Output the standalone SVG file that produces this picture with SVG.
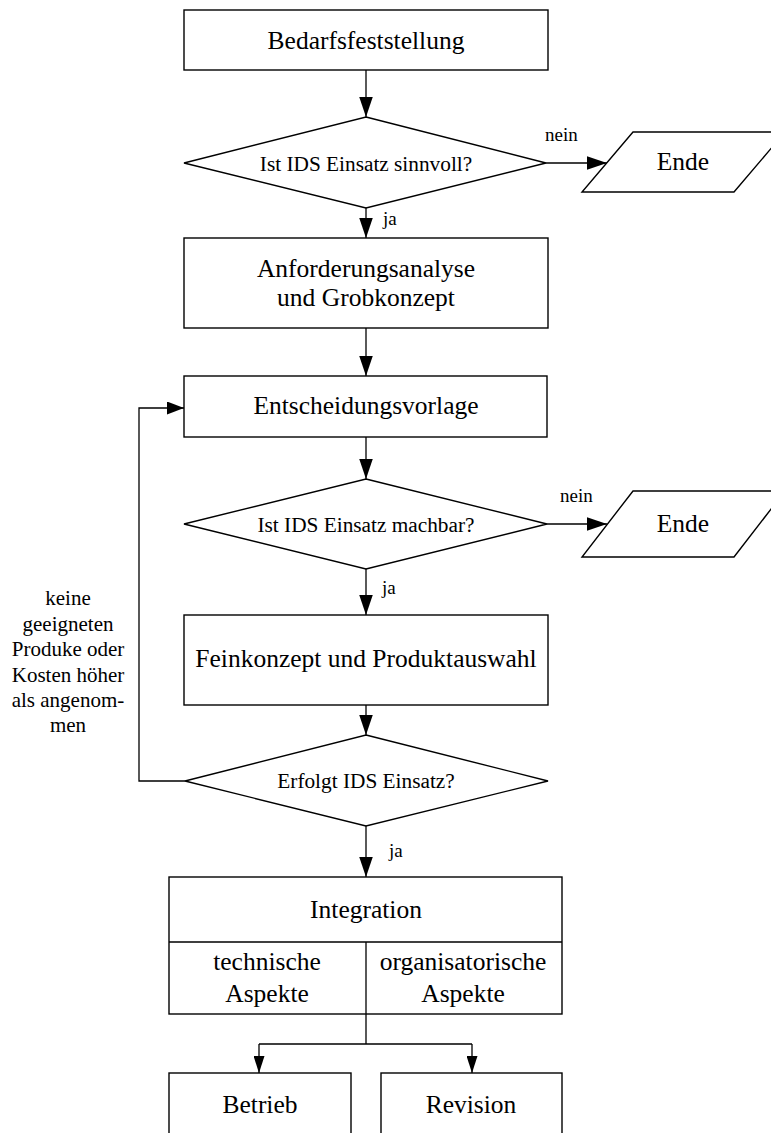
<svg xmlns="http://www.w3.org/2000/svg" width="771" height="1133" viewBox="0 0 771 1133">
  <style>
    .shape { fill: #fff; stroke: #000; stroke-width: 1.4; }
    .line { fill: none; stroke: #000; stroke-width: 1.3; }
    text { font-family: "Liberation Serif", "Times New Roman", serif; fill: #000; text-anchor: middle; }
    .box { font-size: 25.5px; }
    .dec { font-size: 21.3px; }
    .lbl { font-size: 19px; text-anchor: start; }
    .note { font-size: 21px; }
  </style>
  <defs>
    <marker id="arrow" markerUnits="userSpaceOnUse" markerWidth="20" markerHeight="14" refX="20" refY="6.75" orient="auto">
      <path d="M0,0 L20,6.75 L0,13.5 z" fill="#000"/>
    </marker>
    <marker id="arrowMid" markerUnits="userSpaceOnUse" markerWidth="17" markerHeight="13" refX="17" refY="6.5" orient="auto">
      <path d="M0,0 L17,6.5 L0,13 z" fill="#000"/>
    </marker>
    <marker id="arrowSmall" markerUnits="userSpaceOnUse" markerWidth="17" markerHeight="11" refX="17" refY="5.5" orient="auto">
      <path d="M0,0 L17,5.5 L0,11 z" fill="#000"/>
    </marker>
  </defs>

  <!-- connectors and their labels -->
  <g id="connectors">
    <path class="line" d="M366,70 V117" marker-end="url(#arrow)"/>
    <path class="line" d="M366,208 V238" marker-end="url(#arrow)"/>
    <path class="line" d="M546,163 H607" marker-end="url(#arrow)"/>
    <path class="line" d="M366,328 V376" marker-end="url(#arrow)"/>
    <path class="line" d="M366,437 V479" marker-end="url(#arrow)"/>
    <path class="line" d="M547,524 H607" marker-end="url(#arrow)"/>
    <path class="line" d="M366,569 V615" marker-end="url(#arrow)"/>
    <path class="line" d="M366,705 V735" marker-end="url(#arrow)"/>
    <path class="line" d="M185,781 H139 V408 H184" stroke-width="1.1" marker-end="url(#arrowMid)"/>
    <path class="line" d="M366,826 V877" marker-end="url(#arrow)"/>
    <path class="line" d="M366,1014 V1044 M259,1044 H472"/>
    <path class="line" d="M259,1044 V1073" marker-end="url(#arrowSmall)"/>
    <path class="line" d="M472,1044 V1073" marker-end="url(#arrowSmall)"/>
    <text class="lbl" x="545" y="141">nein</text>
    <text class="lbl" x="383" y="225">ja</text>
    <text class="lbl" x="560" y="502">nein</text>
    <text class="lbl" x="382" y="594">ja</text>
    <text class="lbl" x="389" y="857">ja</text>
    <text class="note" x="68" y="605">keine</text>
    <text class="note" x="68" y="631">geeigneten</text>
    <text class="note" x="68" y="656">Produke oder</text>
    <text class="note" x="68" y="682">Kosten höher</text>
    <text class="note" x="68" y="707">als angenom-</text>
    <text class="note" x="68" y="732">men</text>
  </g>

  <g id="bedarf">
    <rect class="shape" x="184" y="10" width="364" height="60"/>
    <text class="box" x="366" y="49">Bedarfsfeststellung</text>
  </g>

  <g id="sinnvoll">
    <polygon class="shape" points="366,117 546,163 366,208 184,163"/>
    <text class="dec" x="366" y="171">Ist IDS Einsatz sinnvoll?</text>
  </g>

  <g id="ende1">
    <polygon class="shape" points="633,132 785,132 734,192 582,192"/>
    <text class="box" x="683" y="170">Ende</text>
  </g>

  <g id="anforderung">
    <rect class="shape" x="184" y="238" width="364" height="90"/>
    <text class="box" x="366" y="277">Anforderungsanalyse</text>
    <text class="box" x="366" y="306">und Grobkonzept</text>
  </g>

  <g id="entscheidung">
    <rect class="shape" x="184" y="376" width="363" height="61"/>
    <text class="box" x="366" y="414">Entscheidungsvorlage</text>
  </g>

  <g id="machbar">
    <polygon class="shape" points="366,479 547,524 366,569 184,524"/>
    <text class="dec" x="366" y="532">Ist IDS Einsatz machbar?</text>
  </g>

  <g id="ende2">
    <polygon class="shape" points="633,491 785,491 734,557 582,557"/>
    <text class="box" x="683" y="532">Ende</text>
  </g>

  <g id="feinkonzept">
    <rect class="shape" x="184" y="615" width="364" height="90"/>
    <text class="box" x="366" y="667">Feinkonzept und Produktauswahl</text>
  </g>

  <g id="erfolgt">
    <polygon class="shape" points="366,735 548,781 366,826 185,781"/>
    <text class="dec" x="366" y="788">Erfolgt IDS Einsatz?</text>
  </g>

  <g id="integration">
    <rect class="shape" x="169" y="877" width="393" height="137"/>
    <path class="line" d="M169,942 H562 M366,942 V1014" stroke-width="1.4"/>
    <text class="box" x="366" y="918">Integration</text>
    <text class="box" x="267" y="970">technische</text>
    <text class="box" x="267" y="1002">Aspekte</text>
    <text class="box" x="463" y="970">organisatorische</text>
    <text class="box" x="463" y="1002">Aspekte</text>
  </g>

  <g id="betrieb">
    <rect class="shape" x="169" y="1073" width="182" height="80"/>
    <text class="box" x="260" y="1113">Betrieb</text>
  </g>

  <g id="revision">
    <rect class="shape" x="381" y="1073" width="181" height="80"/>
    <text class="box" x="471" y="1113">Revision</text>
  </g>
</svg>
